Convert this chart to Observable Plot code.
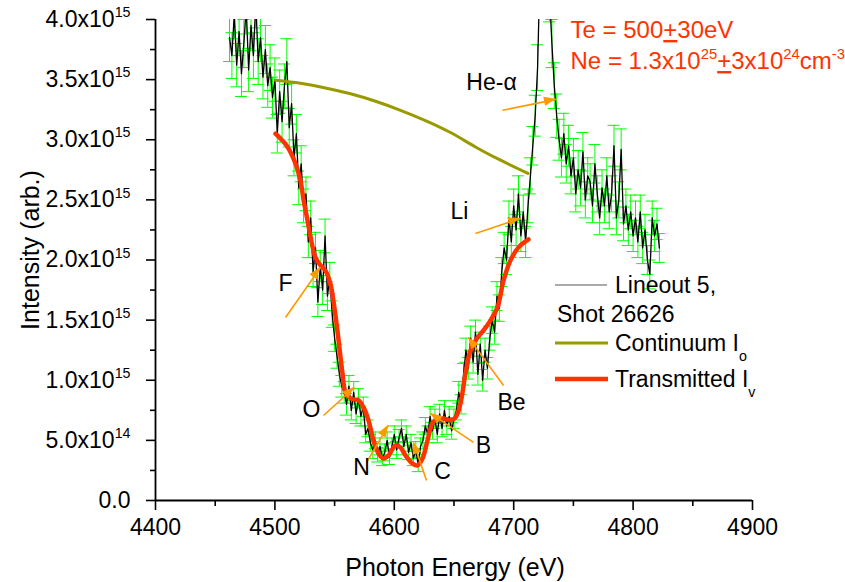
<!DOCTYPE html>
<html><head><meta charset="utf-8">
<script src="https://cdn.jsdelivr.net/npm/d3@7"></script>
<script src="https://cdn.jsdelivr.net/npm/@observablehq/plot@0.6"></script>
<style>html,body{margin:0;padding:0;background:#fff}</style>
</head><body><div id="chart"></div>
<script>
// ---- Lineout 5, Shot 26626 (intensity in units of 1e15) ----
const energy = [
4462,4464,4466,4468,4470,4472,4474,4476,4478,4480,
4482,4484,4486,4488,4490,4492,4494,4496,4498,4500,
4502,4504,4506,4508,4510,4512,4514,4516,4518,4520,
4522,4524,4526,4528,4530,4532,4534,4536,4538,4540,
4542,4544,4546,4548,4550,4552,4554,4556,4558,4560,
4562,4564,4566,4568,4570,4572,4574,4576,4578,4580,
4582,4584,4586,4588,4590,4592,4594,4596,4598,4600,
4602,4604,4606,4608,4610,4612,4614,4616,4618,4620,
4622,4624,4626,4628,4630,4632,4634,4636,4638,4640,
4642,4644,4646,4648,4650,4652,4654,4656,4658,4660,
4662,4664,4666,4668,4670,4672,4674,4676,4678,4680,
4682,4684,4686,4688,4690,4692,4694,4696,4698,4700,
4702,4704,4706,4708,4710,4712,4714,4716,4718,4720,
4722,4724,4726,4728,4730,4732,4734,4736,4738,4740,
4742,4744,4746,4748,4750,4752,4754,4756,4758,4760,
4762,4764,4766,4768,4770,4772,4774,4776,4778,4780,
4782,4784,4786,4788,4790,4792,4794,4796,4798,4800,
4802,4804,4806,4808,4810,4812,4814,4816,4818,4820,
4822];
const intensity = [
3.85,3.70,4.05,3.62,3.90,3.55,3.80,4.10,3.58,3.95,
3.70,4.15,3.65,3.85,3.52,3.75,3.45,3.60,3.35,3.50,
3.05,3.40,3.15,3.45,3.65,3.10,3.30,2.85,3.05,2.60,
2.80,2.45,2.55,2.15,2.35,1.90,2.10,1.65,1.95,1.75,
2.20,1.70,1.85,1.55,1.35,1.20,1.05,0.95,0.90,0.80,
0.95,0.75,0.90,0.72,0.85,0.70,0.78,0.55,0.60,0.48,
0.42,0.50,0.38,0.45,0.35,0.40,0.50,0.36,0.45,0.55,
0.42,0.52,0.60,0.45,0.55,0.40,0.48,0.35,0.42,0.30,
0.45,0.50,0.62,0.55,0.70,0.58,0.68,0.55,0.72,0.60,
0.75,0.62,0.70,0.58,0.68,0.75,0.90,0.80,1.05,1.25,
1.10,1.35,1.15,1.40,1.05,1.30,1.00,1.25,1.10,1.35,
1.50,1.40,1.70,1.60,1.90,2.10,2.00,2.35,2.15,2.45,
2.25,2.55,2.20,2.40,2.15,2.45,2.70,2.95,3.20,3.60,
4.40,4.90,5.20,4.70,4.20,3.80,3.45,3.20,3.00,2.85,
3.05,2.80,2.95,2.70,2.85,2.55,2.75,2.60,2.90,2.50,
2.70,2.65,2.45,2.80,2.55,2.35,2.60,2.45,2.70,2.40,
2.55,2.95,2.35,2.50,2.92,2.30,2.45,2.25,2.40,2.20,
2.35,2.15,2.40,2.10,2.25,2.00,1.88,2.35,2.20,2.30,
2.10];
const errors = [
0.20,0.19,0.21,0.18,0.20,0.19,0.20,0.22,0.18,0.21,
0.19,0.22,0.19,0.20,0.18,0.20,0.18,0.19,0.17,0.18,
0.16,0.18,0.17,0.18,0.19,0.16,0.17,0.15,0.16,0.14,
0.15,0.14,0.14,0.13,0.14,0.12,0.13,0.12,0.13,0.12,
0.14,0.12,0.13,0.11,0.11,0.10,0.10,0.09,0.09,0.09,
0.09,0.08,0.09,0.08,0.08,0.08,0.08,0.07,0.07,0.07,
0.07,0.07,0.06,0.07,0.06,0.07,0.07,0.06,0.07,0.07,
0.07,0.07,0.07,0.07,0.07,0.06,0.07,0.06,0.07,0.06,
0.07,0.07,0.07,0.07,0.08,0.07,0.08,0.07,0.08,0.07,
0.08,0.07,0.08,0.07,0.08,0.08,0.09,0.08,0.09,0.10,
0.09,0.10,0.09,0.10,0.09,0.10,0.09,0.10,0.09,0.10,
0.11,0.10,0.12,0.11,0.12,0.13,0.12,0.14,0.13,0.14,
0.13,0.15,0.13,0.14,0.13,0.14,0.15,0.16,0.17,0.19,
0.22,0.24,0.26,0.24,0.22,0.20,0.19,0.18,0.17,0.16,
0.17,0.16,0.17,0.15,0.16,0.15,0.16,0.15,0.16,0.15,
0.15,0.15,0.14,0.16,0.15,0.14,0.15,0.14,0.15,0.14,
0.15,0.17,0.14,0.15,0.17,0.14,0.14,0.13,0.14,0.13,
0.14,0.13,0.14,0.13,0.13,0.12,0.12,0.14,0.13,0.13,
0.12];

// ---- Continuum I_o ----
const contEnergy = [4500.5,4521.4,4542.4,4563.3,4584.3,4605.2,4626.1,4647.1,4668,4689,4712];
const contIntensity = [3.494,3.469,3.431,3.382,3.32,3.245,3.16,3.06,2.94,2.83,2.72];

// ---- Transmitted I_v ----
const transEnergy = [4500.5,4510.6,4517.3,4521.4,4524,4527.3,4531.5,4534,4538.2,4542.4,4546.6,4549,4552.4,4556.6,4559.1,4563.3,4570,4574.2,4578.4,4582.6,4586.8,4591,4595.1,4601,4605.2,4609.4,4615.2,4619.4,4623.6,4627.8,4632,4636.2,4641.2,4647.1,4651.3,4655.4,4659.6,4663.8,4669.7,4674.7,4680.6,4686.4,4691.5,4697.3,4704,4712.4];
const transIntensity = [3.05,2.94,2.80,2.66,2.50,2.33,2.11,2.02,1.955,1.91,1.80,1.66,1.41,1.057,0.899,0.849,0.832,0.774,0.666,0.499,0.391,0.349,0.374,0.458,0.441,0.374,0.308,0.291,0.349,0.499,0.641,0.682,0.682,0.666,0.691,0.807,1.057,1.248,1.356,1.414,1.498,1.606,1.830,1.997,2.105,2.171];

// ---- Line identifications (arrow from -> to, label position) ----
const annLabels = ["He-α","Li","F","O","N","C","B","Be"];
const annTextE  = [4681.4,4654.6,4508.9,4530.7,4572.5,4640.4,4674.7,4698.2];
const annTextI  = [3.478,2.404,1.805,0.757,0.275,0.241,0.458,0.815];
const annFromE  = [4690.6,4668.0,4508.9,4540.7,4576.7,4627.0,4666.3,4691.5];
const annFromI  = [3.245,2.221,1.522,0.707,0.316,0.166,0.483,0.957];
const annToE    = [4735.8,4705.7,4538.2,4566.7,4595.1,4616.1,4630.3,4662.1];
const annToI    = [3.336,2.346,1.938,0.940,0.624,0.483,0.724,1.356];

// ---- Plasma conditions text ----
const condTexts = ["Te = 500~{+}30eV", "Ne = 1.3x10^{25}~{+}3x10^{24}cm^{-3}"];
const condE = [4747.6, 4747.6];
const condI = [3.91, 3.652];

// ---- Axes ----
const xMajor = [4400,4500,4600,4700,4800,4900];
const xMinor = [4450,4550,4650,4750,4850];
const yMajor = [0,0.5,1.0,1.5,2.0,2.5,3.0,3.5,4.0];
const yMinor = [0.25,0.75,1.25,1.75,2.25,2.75,3.25,3.75];

const FONT = '"Liberation Sans", Arial, Helvetica, sans-serif';
const rows = energy.map((e, i) => ({e, v: intensity[i], err: errors[i]}));
const cont = contEnergy.map((e, i) => ({e, v: contIntensity[i]}));
const trans = transEnergy.map((e, i) => ({e, v: transIntensity[i]}));
const ann = annLabels.map((label, i) => ({label, tx: annTextE[i], ty: annTextI[i], x1: annFromE[i], y1: annFromI[i], x2: annToE[i], y2: annToI[i]}));
const cond = condTexts.map((t, i) => ({t, e: condE[i], v: condI[i]}));
const capHalf = 5;

const yFmt = v => v === 0 ? "0.0" : (v >= 1 ? v.toFixed(1) + "x10^{15}" : (v * 10).toFixed(1) + "x10^{14}");

const plot = Plot.plot({
  width: 845, height: 582,
  marginLeft: 155, marginRight: 93, marginTop: 19, marginBottom: 82,
  style: {fontFamily: FONT, fontSize: "23px", background: "#fff", color: "#000"},
  x: {domain: [4400, 4900], label: null},
  y: {domain: [0, 4], label: null},
  marks: [
    Plot.ruleX(rows, {x: "e", y1: d => d.v - d.err, y2: d => d.v + d.err, stroke: "#00ff00", strokeWidth: 1, clip: true}),
    Plot.ruleY(rows, {y: d => d.v - d.err, x1: d => d.e - capHalf, x2: d => d.e + capHalf, stroke: "#00ff00", strokeWidth: 1, clip: true}),
    Plot.ruleY(rows, {y: d => d.v + d.err, x1: d => d.e - capHalf, x2: d => d.e + capHalf, stroke: "#00ff00", strokeWidth: 1, clip: true}),
    Plot.line(rows, {x: "e", y: "v", stroke: "#000", strokeWidth: 1.3, clip: true}),
    Plot.line(cont, {x: "e", y: "v", curve: "natural", stroke: "#999900", strokeWidth: 3}),
    Plot.line(trans, {x: "e", y: "v", curve: "catmull-rom", stroke: "#ff3300", strokeWidth: 4.5}),
    Plot.link(ann, {x1: "x1", y1: "y1", x2: "x2", y2: "y2", stroke: "#ff9900", strokeWidth: 1.6}),
    Plot.text(ann, {x: "tx", y: "ty", text: "label", fontSize: 23, fill: "#000"}),
    Plot.text(cond, {x: "e", y: "v", text: "t", fontSize: 24, fill: "#ff3300", textAnchor: "start"}),
    Plot.axisX({ticks: xMajor, tickSize: 10, tickPadding: 8, tickFormat: d => String(d), fontSize: 23, strokeWidth: 1.6, label: null}),
    Plot.axisX({ticks: xMinor, tickSize: 6, tickFormat: () => "", strokeWidth: 1.6, label: null}),
    Plot.axisY({ticks: yMajor, tickSize: 9, tickPadding: 16, tickFormat: yFmt, fontSize: 23, strokeWidth: 1.6, label: null}),
    Plot.axisY({ticks: yMinor, tickSize: 5, tickFormat: () => "", strokeWidth: 1.6, label: null}),
    Plot.ruleX([4400], {stroke: "#000", strokeWidth: 1.8}),
    Plot.ruleY([0], {stroke: "#000", strokeWidth: 1.8})
  ]
});
document.getElementById("chart").appendChild(plot);

const svg = d3.select(plot);
const sx = plot.scale("x"), sy = plot.scale("y");

// filled arrow heads placed through the plot's scales
const heads = svg.append("g").attr("fill", "#ff9900");
ann.forEach(a => {
  const x1 = sx.apply(a.x1), y1 = sy.apply(a.y1), x2 = sx.apply(a.x2), y2 = sy.apply(a.y2);
  const ang = Math.atan2(y2 - y1, x2 - x1), L = 12, W = 4.5;
  const bx = x2 - L * Math.cos(ang), by = y2 - L * Math.sin(ang);
  const px = -Math.sin(ang) * W, py = Math.cos(ang) * W;
  heads.append("path").attr("d", `M${x2},${y2}L${bx + px},${by + py}L${bx - px},${by - py}Z`);
});

// axis titles
svg.append("text").attr("x", 455).attr("y", 567).attr("dy", "0.35em").attr("text-anchor", "middle")
  .attr("font-size", 25).attr("font-family", FONT).text("Photon Energy (eV)");
svg.append("text").attr("transform", "translate(30,250) rotate(-90)").attr("dy", "0.35em").attr("text-anchor", "middle")
  .attr("font-size", 25).attr("font-family", FONT).text("Intensity (arb.)");

// legend
const lg = svg.append("g").attr("font-size", 23).attr("font-family", FONT).attr("text-anchor", "start");
lg.append("line").attr("x1", 555).attr("x2", 607).attr("y1", 285).attr("y2", 285).attr("stroke", "#555").attr("stroke-width", 1.2);
lg.append("text").attr("x", 615).attr("y", 285).attr("dy", "0.35em").attr("text-anchor", "start").text("Lineout 5,");
lg.append("text").attr("x", 557).attr("y", 314).attr("dy", "0.35em").attr("text-anchor", "start").text("Shot 26626");
lg.append("line").attr("x1", 555).attr("x2", 608).attr("y1", 343).attr("y2", 343).attr("stroke", "#999900").attr("stroke-width", 3);
lg.append("text").attr("x", 615).attr("y", 343).attr("dy", "0.35em").attr("text-anchor", "start").text("Continuum I_{o}");
lg.append("line").attr("x1", 555).attr("x2", 608).attr("y1", 379).attr("y2", 379).attr("stroke", "#ff3300").attr("stroke-width", 4.5);
lg.append("text").attr("x", 615).attr("y", 379).attr("dy", "0.35em").attr("text-anchor", "start").text("Transmitted I_{v}");

// rich text: ^{sup}, _{sub}, ~{underline}
function richify(root) {
  const ns = "http://www.w3.org/2000/svg";
  root.querySelectorAll("text").forEach(t => {
    if (t.querySelector("tspan")) return;
    const s = t.textContent;
    if (!/[\^_~]\{/.test(s)) return;
    const fs = parseFloat(getComputedStyle(t).fontSize) || 23;
    t.textContent = "";
    const re = /([\^_~])\{([^}]*)\}/g;
    let last = 0, m, cur = 0;
    const add = (txt, kind) => {
      const ts = document.createElementNS(ns, "tspan");
      const off = kind === "^" ? -0.42 : kind === "_" ? 0.42 : 0;
      if (kind === "^" || kind === "_") ts.setAttribute("font-size", (fs * 0.62) + "px");
      if (off !== cur) ts.setAttribute("dy", ((off - cur) * fs) + "px");
      cur = off;
      if (kind === "~") ts.setAttribute("text-decoration", "underline");
      ts.textContent = txt;
      t.appendChild(ts);
    };
    while ((m = re.exec(s))) {
      if (m.index > last) add(s.slice(last, m.index), "n");
      add(m[2], m[1]);
      last = re.lastIndex;
    }
    if (last < s.length) add(s.slice(last), "n");
  });
}
richify(plot);
</script>
</body></html>
